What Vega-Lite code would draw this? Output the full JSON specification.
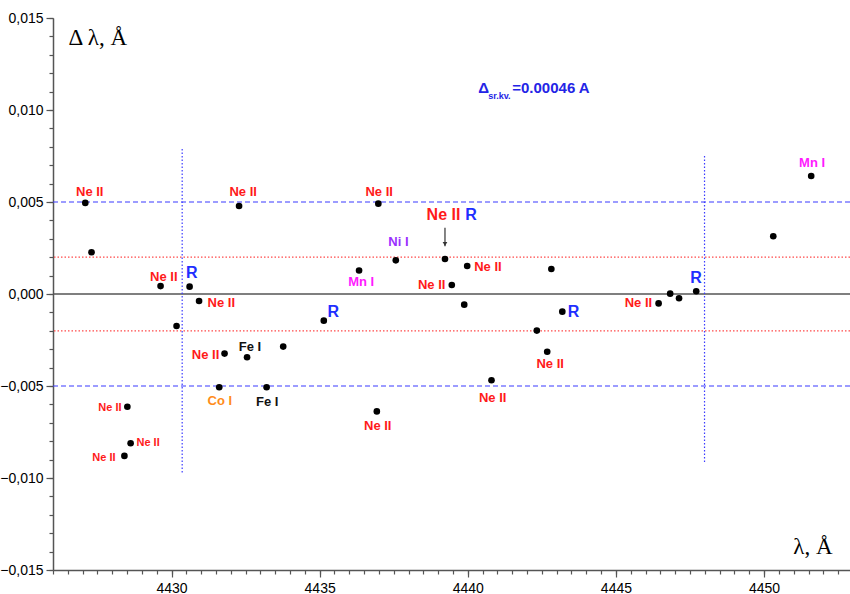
{
  "$schema": "https://vega.github.io/schema/vega-lite/v6.json",
  "autosize": {"type": "none"},
  "width": 797,
  "height": 552,
  "padding": {"left": 53, "top": 18, "right": 0, "bottom": 24},
  "background": "white",
  "config": {"view": {"stroke": null}, "font": "Liberation Sans"},
  "resolve": {"axis": {"x": "independent", "y": "independent"}},
  "datasets": {
    "points": [
      {"lam": 4427.09, "dl": 0.00495},
      {"lam": 4427.30, "dl": 0.00227},
      {"lam": 4429.63, "dl": 0.00043},
      {"lam": 4430.61, "dl": 0.00040},
      {"lam": 4430.93, "dl": -0.00038},
      {"lam": 4430.17, "dl": -0.00174},
      {"lam": 4432.28, "dl": 0.00478},
      {"lam": 4431.79, "dl": -0.00324},
      {"lam": 4432.55, "dl": -0.00344},
      {"lam": 4433.77, "dl": -0.00286},
      {"lam": 4431.61, "dl": -0.00507},
      {"lam": 4433.21, "dl": -0.00507},
      {"lam": 4435.14, "dl": -0.00145},
      {"lam": 4436.33, "dl": 0.00128},
      {"lam": 4436.98, "dl": 0.00491},
      {"lam": 4437.57, "dl": 0.00183},
      {"lam": 4436.93, "dl": -0.00638},
      {"lam": 4439.23, "dl": 0.00190},
      {"lam": 4439.46, "dl": 0.00049},
      {"lam": 4439.98, "dl": 0.00152},
      {"lam": 4439.88, "dl": -0.00058},
      {"lam": 4440.80, "dl": -0.00469},
      {"lam": 4442.82, "dl": 0.00136},
      {"lam": 4442.33, "dl": -0.00199},
      {"lam": 4442.68, "dl": -0.00314},
      {"lam": 4443.19, "dl": -0.00096},
      {"lam": 4446.44, "dl": -0.00051},
      {"lam": 4446.83, "dl": 0.00002},
      {"lam": 4447.13, "dl": -0.00023},
      {"lam": 4447.71, "dl": 0.00015},
      {"lam": 4450.31, "dl": 0.00314},
      {"lam": 4451.59, "dl": 0.00641},
      {"lam": 4428.51, "dl": -0.00613},
      {"lam": 4428.62, "dl": -0.00811},
      {"lam": 4428.41, "dl": -0.00880}
    ],
    "labels": [
      {"lam": 4427.24, "dl": 0.00554, "label": "Ne II"},
      {"lam": 4429.74, "dl": 0.00092, "label": "Ne II"},
      {"lam": 4431.68, "dl": -0.00051, "label": "Ne II"},
      {"lam": 4432.42, "dl": 0.00553, "label": "Ne II"},
      {"lam": 4431.15, "dl": -0.00330, "label": "Ne II"},
      {"lam": 4432.65, "dl": -0.00286, "label": "Fe I"},
      {"lam": 4436.40, "dl": 0.00064, "label": "Mn I"},
      {"lam": 4437.01, "dl": 0.00553, "label": "Ne II"},
      {"lam": 4437.66, "dl": 0.00281, "label": "Ni I"},
      {"lam": 4440.68, "dl": 0.00145, "label": "Ne II"},
      {"lam": 4438.78, "dl": 0.00049, "label": "Ne II"},
      {"lam": 4451.62, "dl": 0.00710, "label": "Mn I"},
      {"lam": 4445.76, "dl": -0.00051, "label": "Ne II"},
      {"lam": 4442.78, "dl": -0.00380, "label": "Ne II"},
      {"lam": 4440.84, "dl": -0.00567, "label": "Ne II"},
      {"lam": 4436.96, "dl": -0.00716, "label": "Ne II"},
      {"lam": 4431.63, "dl": -0.00583, "label": "Co I"},
      {"lam": 4433.23, "dl": -0.00589, "label": "Fe I"}
    ],
    "rlabels": [
      {"lam": 4430.68, "dl": 0.00113, "label": "R"},
      {"lam": 4435.46, "dl": -0.00096, "label": "R"},
      {"lam": 4443.57, "dl": -0.00096, "label": "R"},
      {"lam": 4447.70, "dl": 0.00087, "label": "R"}
    ],
    "smalllabels": [
      {"lam": 4427.92, "dl": -0.00621, "label": "Ne II"},
      {"lam": 4429.21, "dl": -0.00811, "label": "Ne II"},
      {"lam": 4427.72, "dl": -0.00890, "label": "Ne II"}
    ],
    "biglabels": [
      {"lam": 4439.18, "dl": 0.00431, "label": "Ne II"},
      {"lam": 4440.11, "dl": 0.00431, "label": "R"}
    ]
  },
  "layer": [
    {
      "data": {"values": [{"dl": 0.005}, {"dl": -0.005}]},
      "mark": {"type": "rule", "color": "#3b3bff", "strokeWidth": 1.2, "strokeDash": [5, 3]},
      "encoding": {"y": {"field": "dl", "type": "quantitative", "axis": null}}
    },
    {
      "data": {"values": [{"dl": 0.002}, {"dl": -0.002}]},
      "mark": {"type": "rule", "color": "#ff4a4a", "strokeWidth": 1.2, "strokeDash": [1.5, 2]},
      "encoding": {"y": {"field": "dl", "type": "quantitative", "axis": null}}
    },
    {
      "data": {"values": [{"dl": 0}]},
      "mark": {"type": "rule", "color": "#555555", "strokeWidth": 1.5},
      "encoding": {"y": {"field": "dl", "type": "quantitative", "axis": null}}
    },
    {
      "data": {"values": [
        {"lam": 4430.36, "top": 0.00788, "bottom": -0.00973},
        {"lam": 4447.99, "top": 0.0075, "bottom": -0.00918}
      ]},
      "mark": {"type": "rule", "color": "#3b3bff", "strokeWidth": 1.2, "strokeDash": [1.5, 2]},
      "encoding": {
        "x": {"field": "lam", "type": "quantitative",
          "axis": {
            "orient": "bottom",
            "values": [4426, 4426.5, 4427, 4427.5, 4428, 4428.5, 4429, 4429.5, 4430, 4430.5, 4431, 4431.5, 4432, 4432.5, 4433, 4433.5, 4434, 4434.5, 4435, 4435.5, 4436, 4436.5, 4437, 4437.5, 4438, 4438.5, 4439, 4439.5, 4440, 4440.5, 4441, 4441.5, 4442, 4442.5, 4443, 4443.5, 4444, 4444.5, 4445, 4445.5, 4446, 4446.5, 4447, 4447.5, 4448, 4448.5, 4449, 4449.5, 4450, 4450.5, 4451, 4451.5, 4452, 4452.5],
            "labels": false, "domain": false, "grid": false, "title": null,
            "tickSize": 4, "tickColor": "#555555", "tickWidth": 1.2
          }
        },
        "y": {"field": "top", "type": "quantitative",
          "axis": {
            "orient": "left",
            "values": [-0.015, -0.014, -0.013, -0.012, -0.011, -0.01, -0.009, -0.008, -0.007, -0.006, -0.005, -0.004, -0.003, -0.002, -0.001, 0, 0.001, 0.002, 0.003, 0.004, 0.005, 0.006, 0.007, 0.008, 0.009, 0.01, 0.011, 0.012, 0.013, 0.014, 0.015],
            "labels": false, "domain": false, "grid": false, "title": null,
            "tickSize": 4, "tickColor": "#555555", "tickWidth": 1.2
          }
        },
        "y2": {"field": "bottom"}
      }
    },
    {
      "data": {"name": "points"},
      "mark": {"type": "point", "filled": true, "color": "black", "opacity": 1, "size": 44},
      "encoding": {
        "x": {
          "field": "lam", "type": "quantitative",
          "scale": {"domain": [4426, 4452.9], "nice": false, "zero": false},
          "axis": {
            "orient": "bottom",
            "values": [4430, 4435, 4440, 4445, 4450],
            "format": "d",
            "labelOverlap": false,
            "labelBound": false,
            "labelFlush": false,
            "labelFont": "Liberation Sans",
            "labelFontSize": 14,
            "labelColor": "black",
            "labelPadding": 4,
            "tickSize": 7,
            "tickColor": "#555555",
            "tickWidth": 1.2,
            "domainColor": "#555555",
            "domainWidth": 1.5,
            "grid": false,
            "title": "λ, Å",
            "titleFont": "Liberation Serif",
            "titleFontWeight": "normal",
            "titleFontSize": 23,
            "titleColor": "black",
            "titleAlign": "right",
            "titleBaseline": "alphabetic",
            "titleAnchor": null,
            "titleX": 779,
            "titleY": -17
          }
        },
        "y": {
          "field": "dl", "type": "quantitative",
          "scale": {"domain": [-0.015, 0.015], "nice": false, "zero": false},
          "axis": {
            "orient": "left",
            "values": [-0.015, -0.01, -0.005, 0, 0.005, 0.01, 0.015],
            "labelExpr": "replace(format(datum.value, '.3f'), '.', ',')",
            "labelOverlap": false,
            "labelBound": false,
            "labelFlush": false,
            "labelFont": "Liberation Sans",
            "labelFontSize": 14,
            "labelColor": "black",
            "labelPadding": 3,
            "tickSize": 7,
            "tickColor": "#555555",
            "tickWidth": 1.2,
            "domainColor": "#555555",
            "domainWidth": 1.5,
            "grid": false,
            "title": "Δ λ, Å",
            "titleFont": "Liberation Serif",
            "titleFontWeight": "normal",
            "titleFontSize": 23,
            "titleColor": "black",
            "titleAngle": 0,
            "titleAlign": "left",
            "titleBaseline": "alphabetic",
            "titleAnchor": null,
            "titleX": 15,
            "titleY": 26
          }
        }
      }
    },
    {
      "data": {"values": [{"lam": 4439.23, "top": 0.0036, "bottom": 0.0026}]},
      "mark": {"type": "rule", "color": "#333333", "strokeWidth": 1.2},
      "encoding": {
        "x": {"field": "lam", "type": "quantitative", "axis": null},
        "y": {"field": "top", "type": "quantitative", "axis": null},
        "y2": {"field": "bottom"}
      }
    },
    {
      "data": {"values": [{"lam": 4439.23, "dl": 0.00272}]},
      "mark": {"type": "point", "shape": "triangle-down", "filled": true, "color": "#333333", "opacity": 1, "size": 22},
      "encoding": {
        "x": {"field": "lam", "type": "quantitative", "axis": null},
        "y": {"field": "dl", "type": "quantitative", "axis": null}
      }
    },
    {
      "data": {"name": "labels"},
      "mark": {"type": "text", "font": "Liberation Sans", "fontWeight": "bold", "fontSize": 13, "align": "center", "baseline": "middle"},
      "encoding": {
        "x": {"field": "lam", "type": "quantitative", "axis": null},
        "y": {"field": "dl", "type": "quantitative", "axis": null},
        "text": {"field": "label"},
        "color": {"field": "label", "type": "nominal", "legend": null,
          "scale": {"domain": ["Ne II", "R", "Mn I", "Ni I", "Fe I", "Co I"], "range": ["#ff1a1a", "#1f2fff", "#ff1aff", "#9b30ff", "#111111", "#ff8c1a"]}}
      }
    },
    {
      "data": {"name": "rlabels"},
      "mark": {"type": "text", "font": "Liberation Sans", "fontWeight": "bold", "fontSize": 16, "align": "center", "baseline": "middle"},
      "encoding": {
        "x": {"field": "lam", "type": "quantitative", "axis": null},
        "y": {"field": "dl", "type": "quantitative", "axis": null},
        "text": {"field": "label"},
        "color": {"field": "label", "type": "nominal", "legend": null}
      }
    },
    {
      "data": {"name": "smalllabels"},
      "mark": {"type": "text", "font": "Liberation Sans", "fontWeight": "bold", "fontSize": 11, "align": "center", "baseline": "middle"},
      "encoding": {
        "x": {"field": "lam", "type": "quantitative", "axis": null},
        "y": {"field": "dl", "type": "quantitative", "axis": null},
        "text": {"field": "label"},
        "color": {"field": "label", "type": "nominal", "legend": null}
      }
    },
    {
      "data": {"name": "biglabels"},
      "mark": {"type": "text", "font": "Liberation Sans", "fontWeight": "bold", "fontSize": 16, "align": "center", "baseline": "middle"},
      "encoding": {
        "x": {"field": "lam", "type": "quantitative", "axis": null},
        "y": {"field": "dl", "type": "quantitative", "axis": null},
        "text": {"field": "label"},
        "color": {"field": "label", "type": "nominal", "legend": null}
      }
    },
    {
      "data": {"values": [
        {"lam": 4440.35, "dl": 0.0112, "txt": "Δ"},
        {"lam": 4441.50, "dl": 0.0112, "txt": "=0.00046 A"}
      ]},
      "mark": {"type": "text", "font": "Liberation Sans", "fontWeight": "bold", "fontSize": 15, "align": "left", "baseline": "middle", "color": "#2424e6"},
      "encoding": {
        "x": {"field": "lam", "type": "quantitative", "axis": null},
        "y": {"field": "dl", "type": "quantitative", "axis": null},
        "text": {"field": "txt"}
      }
    },
    {
      "data": {"values": [{"lam": 4440.69, "dl": 0.01076, "txt": "sr.kv."}]},
      "mark": {"type": "text", "font": "Liberation Sans", "fontWeight": "bold", "fontSize": 9, "align": "left", "baseline": "middle", "color": "#2424e6"},
      "encoding": {
        "x": {"field": "lam", "type": "quantitative", "axis": null},
        "y": {"field": "dl", "type": "quantitative", "axis": null},
        "text": {"field": "txt"}
      }
    }
  ]
}
